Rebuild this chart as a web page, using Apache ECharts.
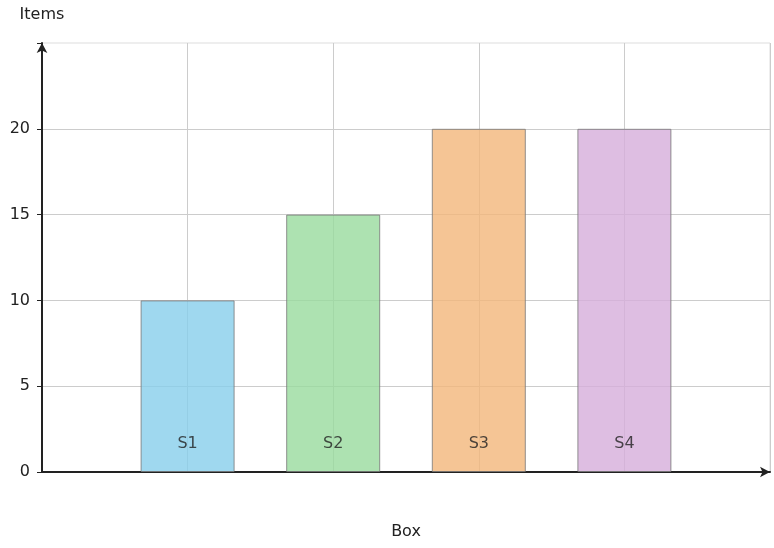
<!DOCTYPE html>
<html><head><meta charset="utf-8">
<script src="https://cdn.jsdelivr.net/npm/echarts@6/dist/echarts.min.js"></script>
<style>html,body{margin:0;padding:0;background:#fff}#c{width:774px;height:548px}</style>
</head><body><div id="c"></div>
<script>
const categories = ['S1','S2','S3','S4'];
const positions = [1,2,3,4];
const values = [10,15,20,20];
const colors = ['#87CEEB','#98DB9E','#F2B67A','#D6AEDB'];
const chart = echarts.init(document.getElementById('c'));
chart.setOption({
  animation:false,
  grid:{left:42,right:4,top:43,bottom:76,show:true,borderColor:'#ddd',borderWidth:1},
  xAxis:{type:'value',min:0,max:5,interval:1,name:'Box',nameLocation:'middle',nameGap:52,
    nameTextStyle:{fontFamily:'DejaVu Sans',fontSize:16,color:'#222'},
    axisLine:{lineStyle:{color:'#222',width:2},symbol:['none','arrow'],symbolSize:[8,10]},
    axisTick:{show:false},axisLabel:{show:false},
    splitLine:{show:true,lineStyle:{color:'#ccc'},showMinLine:false}},
  yAxis:{type:'value',min:0,max:25,interval:5,name:'Items',nameLocation:'end',nameGap:20,
    nameTextStyle:{fontFamily:'DejaVu Sans',fontSize:16,color:'#222',align:'center',padding:[0,0,0,0]},
    axisLine:{show:true,lineStyle:{color:'#222',width:2},symbol:['none','arrow'],symbolSize:[8,10]},
    axisTick:{show:true,length:5,lineStyle:{color:'#222'}},
    axisLabel:{fontFamily:'DejaVu Sans',fontSize:16,color:'#222',margin:12,
      formatter:v=>v===25?'':v},
    splitLine:{lineStyle:{color:'#ccc'},showMaxLine:false}},
  series:[{type:'bar',barWidth:94,
    data:positions.map((p,i)=>({value:[p,values[i]],name:categories[i],
      itemStyle:{color:colors[i],opacity:0.8,borderColor:'#777',borderWidth:1}})),
    label:{show:true,position:'insideBottom',distance:20,formatter:p=>p.name,
      fontFamily:'DejaVu Sans',fontSize:16,color:'#222'}}]
});
</script></body></html>
